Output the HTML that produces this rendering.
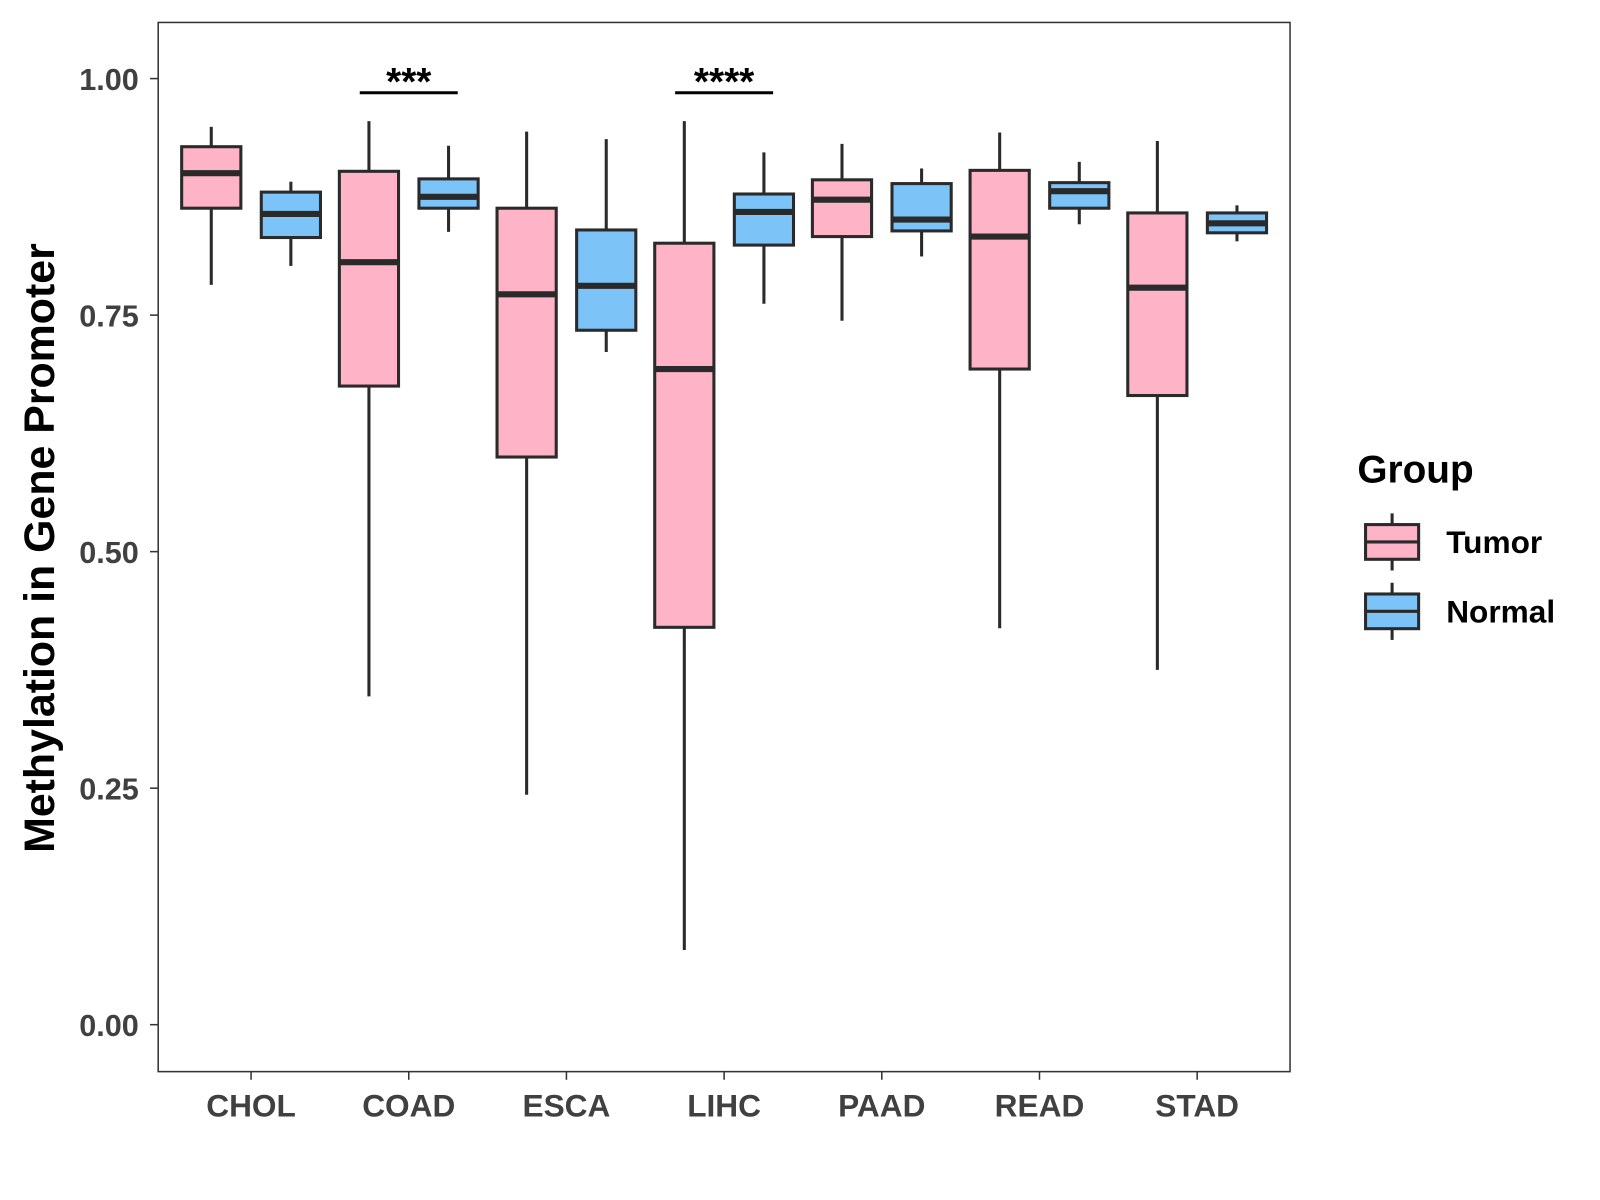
<!DOCTYPE html>
<html><head><meta charset="utf-8"><style>
html,body{margin:0;padding:0;background:#fff;}
svg{display:block;font-family:"Liberation Sans",Arial,sans-serif;}
</style></head><body>
<svg width="1600" height="1200" viewBox="0 0 1600 1200" xmlns="http://www.w3.org/2000/svg">
<rect x="0" y="0" width="1600" height="1200" fill="#fff"/>
<g id="chart" transform="scale(1.0206)">
<g id="plot"></g>
<rect x="155" y="22" width="1109" height="1028" fill="none" stroke="#333" stroke-width="1.5"/>
<text x="0" y="0" transform="translate(53,537) rotate(-90)" text-anchor="middle" font-size="42" font-weight="bold" fill="#000">Methylation in Gene Promoter</text>
<g>
<text x="1330" y="473" font-size="38" font-weight="bold" fill="#000">Group</text>
<g>
<line x1="1364" y1="503" x2="1364" y2="514" stroke="#2a2a2a" stroke-width="3"/>
<line x1="1364" y1="548" x2="1364" y2="559" stroke="#2a2a2a" stroke-width="3"/>
<rect x="1338" y="514" width="52" height="34" fill="#FFB3C6" stroke="#2a2a2a" stroke-width="3"/>
<line x1="1338" y1="531" x2="1390" y2="531" stroke="#2a2a2a" stroke-width="3"/>
<text x="1417" y="542" font-size="31" font-weight="bold" fill="#000">Tumor</text>
</g>
<g>
<line x1="1364" y1="571" x2="1364" y2="582" stroke="#2a2a2a" stroke-width="3"/>
<line x1="1364" y1="616" x2="1364" y2="627" stroke="#2a2a2a" stroke-width="3"/>
<rect x="1338" y="582" width="52" height="34" fill="#7CC4F8" stroke="#2a2a2a" stroke-width="3"/>
<line x1="1338" y1="599" x2="1390" y2="599" stroke="#2a2a2a" stroke-width="3"/>
<text x="1417" y="610" font-size="31" font-weight="bold" fill="#000">Normal</text>
</g>
</g>
</g>
</svg>
<script>
const categories = ["CHOL","COAD","ESCA","LIHC","PAAD","READ","STAD"];
const groups = ["Tumor","Normal"];
// [low, q1, median, q3, high]
const tumorStats = [
 [0.782,0.863,0.900,0.928,0.949],
 [0.347,0.675,0.806,0.902,0.955],
 [0.243,0.600,0.772,0.863,0.944],
 [0.079,0.420,0.693,0.826,0.955],
 [0.744,0.833,0.872,0.893,0.931],
 [0.419,0.693,0.833,0.903,0.943],
 [0.375,0.665,0.779,0.858,0.934]
];
const normalStats = [
 [0.802,0.832,0.857,0.880,0.891],
 [0.838,0.863,0.875,0.894,0.929],
 [0.711,0.734,0.781,0.840,0.936],
 [0.762,0.824,0.859,0.878,0.922],
 [0.812,0.839,0.851,0.889,0.905],
 [0.846,0.863,0.881,0.890,0.912],
 [0.828,0.837,0.847,0.858,0.866]
];
const yTicks = [0, 0.25, 0.5, 0.75, 1.0];
const yTickLabels = ["0.00","0.25","0.50","0.75","1.00"];
const sigCategories = ["COAD","LIHC"];
const sigLabels = ["***","****"];
const sigHeight = 0.985;

const NS="http://www.w3.org/2000/svg";
const plot=document.getElementById('plot');
const svg=document.getElementById('chart');
function y(v){return 1004-(v)*927;}
function x(i){return 246+i*154.5;}
function mk(tag,attrs,parent){const e=document.createElementNS(NS,tag);for(const k in attrs)e.setAttribute(k,attrs[k]);(parent||plot).appendChild(e);return e;}
const colors=["#FFB3C6","#7CC4F8"];
const offs=[-39,39];
const bw=58;
categories.forEach((c,i)=>{
 [tumorStats,normalStats].forEach((S,g)=>{
  const s=S[i], cx=x(i)+offs[g];
  const grp=mk('g',{});
  
  
  mk('line',{x1:cx,x2:cx,y1:y(s[4]),y2:y(s[3]),stroke:'#2a2a2a','stroke-width':3},grp);
  mk('line',{x1:cx,x2:cx,y1:y(s[1]),y2:y(s[0]),stroke:'#2a2a2a','stroke-width':3},grp);
  mk('rect',{x:cx-bw/2,y:y(s[3]),width:bw,height:y(s[1])-y(s[3]),fill:colors[g],stroke:'#2a2a2a','stroke-width':3},grp);
  mk('line',{x1:cx-bw/2,x2:cx+bw/2,y1:y(s[2]),y2:y(s[2]),stroke:'#2a2a2a','stroke-width':6},grp);
 });
 const t=mk('line',{x1:x(i),x2:x(i),y1:1050,y2:1058,stroke:'#333','stroke-width':1.5},svg);
 
 
 const l=mk('text',{x:x(i),y:1094,'text-anchor':'middle','font-size':31,'font-weight':'bold',fill:'#404040'},svg);
 l.textContent=c;
 
 
});
yTicks.forEach((v,k)=>{
 const t=mk('line',{x1:147,x2:155,y1:y(v),y2:y(v),stroke:'#333','stroke-width':1.5},svg);
 
 
 const l=mk('text',{x:136,y:y(v)+11,'text-anchor':'end','font-size':30,'font-weight':'bold',fill:'#404040'},svg);
 l.textContent=yTickLabels[k];
 
 
});
sigCategories.forEach((c,k)=>{
 const i=categories.indexOf(c);
 const line=mk('line',{x1:x(i)-48,x2:x(i)+48,y1:y(sigHeight),y2:y(sigHeight),stroke:'#000','stroke-width':3});
 
 
 const t=mk('text',{x:x(i),y:y(sigHeight)+2,'text-anchor':'middle','font-size':38,'font-weight':'bold',fill:'#000'});
 t.textContent=sigLabels[k];
 
 
});
</script>
</body></html>
